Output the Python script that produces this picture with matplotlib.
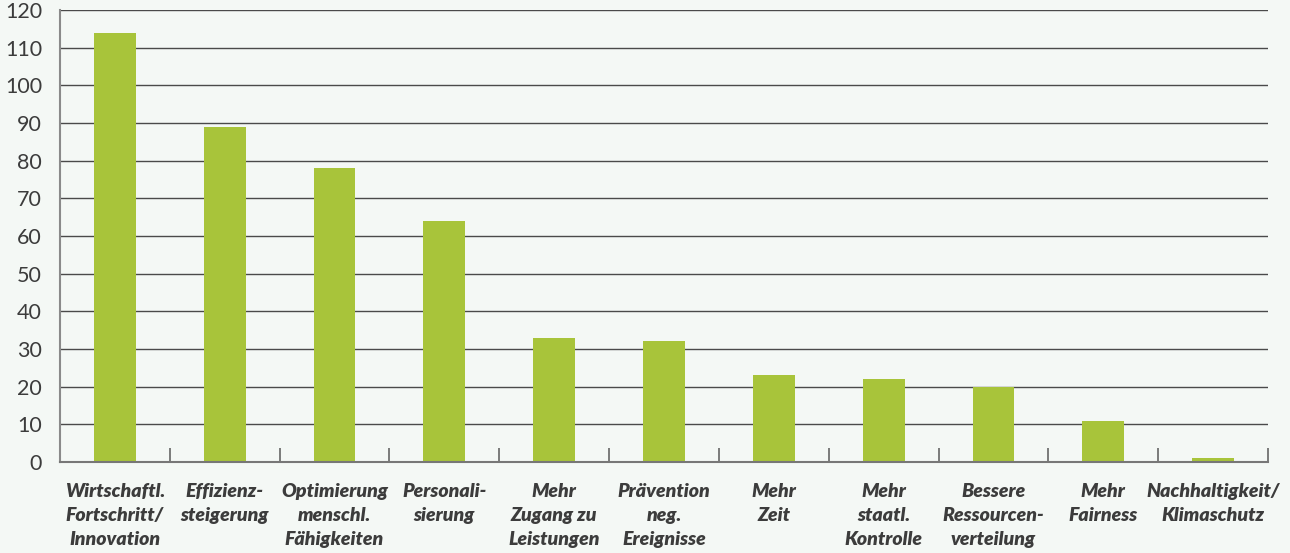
import matplotlib.pyplot as plt
import numpy as np

categories = [
    "Wirtschaftl.\nFortschritt/\nInnovation",
    "Effizienz-\nsteigerung",
    "Optimierung\nmenschl.\nFähigkeiten",
    "Personali-\nsierung",
    "Mehr\nZugang zu\nLeistungen",
    "Prävention\nneg.\nEreignisse",
    "Mehr\nZeit",
    "Mehr\nstaatl.\nKontrolle",
    "Bessere\nRessourcen-\nverteilung",
    "Mehr\nFairness",
    "Nachhaltigkeit/\nKlimaschutz",
]
values = [114, 89, 78, 64, 33, 32, 23, 22, 20, 11, 1]
yticks = list(range(0, 121, 10))

bg = "#f4f8f5"
green = "#a8c43a"
text_col = "#3c3c3c"

plt.rcParams['font.family'] = ['Lato', 'DejaVu Sans']

fig = plt.figure(figsize=(12.9, 5.53), dpi=100, facecolor=bg)
ax = fig.add_axes([60 / 1290, 1 - 462 / 553, (1268 - 60) / 1290, (462 - 10) / 553])
ax.set_facecolor(bg)

x = np.arange(len(values))
ax.bar(x, values, width=0.38, color=green, zorder=3)

ax.set_xlim(-0.5, len(values) - 0.5)
ax.set_ylim(0, 120)
ax.set_yticks(yticks)
ax.set_yticklabels([str(t) for t in yticks], fontsize=15.5, color=text_col)
ax.tick_params(axis='y', length=0, pad=13)
ax.yaxis.grid(True, color="#4a4a4a", linewidth=1.0, zorder=1)

# category labels centred under bars, tick marks at the boundaries
ax.set_xticks(x)
ax.set_xticklabels(categories, fontsize=14, fontweight='heavy', fontstyle='italic',
                   color=text_col, linespacing=1.5, va='top')
ax.tick_params(axis='x', which='major', length=0, pad=15)
ax.set_xticks(np.arange(-0.5, len(values), 1), minor=True)
ax.tick_params(axis='x', which='minor', direction='in', length=10, width=1.2, color="#666666")

for side in ['top', 'right']:
    ax.spines[side].set_visible(False)
ax.spines['left'].set_color("#8a8a8a")
ax.spines['left'].set_linewidth(1.5)
ax.spines['bottom'].set_color("#777777")
ax.spines['bottom'].set_linewidth(1.5)
ax.spines['bottom'].set_zorder(4)

fig.savefig("out.png", dpi=100, facecolor=bg)
